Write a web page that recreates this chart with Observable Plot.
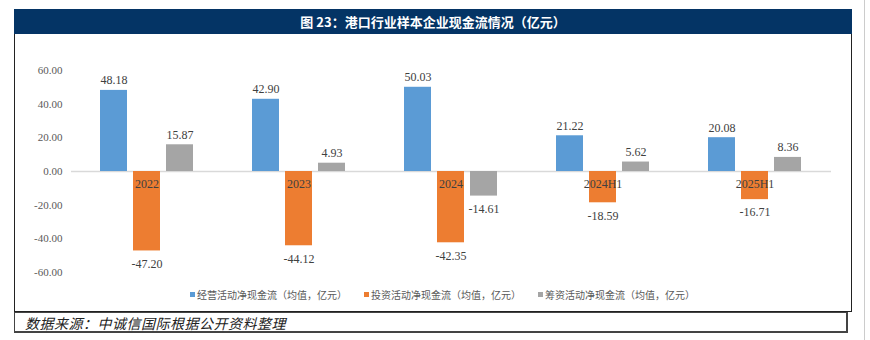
<!DOCTYPE html>
<html><head><meta charset="utf-8">
<script src="https://cdn.jsdelivr.net/npm/d3@7"></script>
<script src="https://cdn.jsdelivr.net/npm/@observablehq/plot@0.6"></script>
<style>
body{margin:0;background:#fff;}
#wrap{position:relative;width:870px;height:340px;overflow:hidden;font-family:"Noto Sans CJK SC",sans-serif;}
#title{position:absolute;left:14px;top:9px;width:838px;height:25px;background:#043465;color:#fff;font-weight:bold;font-size:13px;line-height:25px;text-align:center;font-family:"Noto Sans CJK SC",serif;}
#frame{position:absolute;left:14px;top:34px;width:836px;height:277px;border-left:1.5px solid #222;border-right:1.5px solid #222;border-bottom:1.5px solid #222;}
#chart{position:absolute;left:0;top:35px;}
#legend{position:absolute;top:287px;left:190px;display:flex;font-size:10px;color:#595959;white-space:nowrap;}
#legend span.it{display:flex;align-items:center;margin-right:17px;}
#legend i{display:inline-block;width:5px;height:5px;margin-right:2px;}
#source{position:absolute;left:14px;top:312px;width:834px;height:21px;border:1px solid #444;border-right:2px solid #444;border-bottom:2px solid #444;font-size:14px;font-style:italic;color:#222;line-height:21px;padding-left:10px;box-sizing:border-box;letter-spacing:0.5px;}
#edge{position:absolute;left:864px;top:0;width:1px;height:340px;background:#ccc;}
</style></head>
<body><div id="wrap">
<div id="title">图 23：港口行业样本企业现金流情况（亿元）</div>
<div id="frame"></div>
<div id="chart"></div>
<div id="legend"></div>
<div id="source">数据来源：中诚信国际根据公开资料整理</div>
<div id="edge"></div>
</div>
<script>
const categories = ["2022", "2023", "2024", "2024H1", "2025H1"];
const seriesNames = ["经营活动净现金流（均值，亿元）", "投资活动净现金流（均值，亿元）", "筹资活动净现金流（均值，亿元）"];
const operating = [48.18, 42.90, 50.03, 21.22, 20.08];
const investing = [-47.20, -44.12, -42.35, -18.59, -16.71];
const financing = [15.87, 4.93, -14.61, 5.62, 8.36];
const yTicks = [-60, -40, -20, 0, 20, 40, 60];
const colors = ["#5B9BD5", "#ED7D31", "#A5A5A5"];

const seriesValues = [operating, investing, financing];
const data = [];
categories.forEach((c, i) => seriesNames.forEach((s, j) => data.push({cat: c, series: s, value: seriesValues[j][i]})));
const catLabels = categories.map(c => ({cat: c, series: seriesNames[1], value: 0}));

const numFont = "Liberation Serif, Times New Roman, serif";
const plot = Plot.plot({
  width: 870,
  height: 245,
  marginTop: 35,
  marginBottom: 8,
  marginLeft: 71,
  marginRight: 39,
  style: {fontFamily: numFont, fontSize: "11px", color: "#595959", background: "transparent"},
  fx: {domain: categories, padding: 0, axis: null},
  x: {domain: seriesNames, paddingInner: 0.18, paddingOuter: 0.87, axis: null},
  y: {domain: [-60, 60], ticks: yTicks, tickFormat: d => d.toFixed(2), tickSize: 0, tickPadding: 9, label: null},
  color: {domain: seriesNames, range: colors},
  marks: [
    Plot.ruleY([0], {stroke: "#d9d9d9", strokeWidth: 1.5}),
    Plot.barY(data, {fx: "cat", x: "series", y: "value", fill: "series"}),
    Plot.text(data, {fx: "cat", x: "series", y: "value", text: d => d.value.toFixed(2),
      fill: "#404040", fontSize: 12, filter: d => d.value >= 0, dy: -10}),
    Plot.text(data, {fx: "cat", x: "series", y: "value", text: d => d.value.toFixed(2),
      fill: "#404040", fontSize: 12, filter: d => d.value < 0, dy: 13}),
    Plot.text(catLabels, {fx: "cat", x: "series", y: "value", text: "cat", fill: "#404040", fontSize: 12, dy: 13})
  ]
});
document.getElementById("chart").appendChild(plot);

const leg = document.getElementById("legend");
seriesNames.forEach((s, j) => {
  const it = document.createElement("span");
  it.className = "it";
  it.innerHTML = `<i style="background:${colors[j]}"></i>${s}`;
  leg.appendChild(it);
});
</script>
</body></html>
